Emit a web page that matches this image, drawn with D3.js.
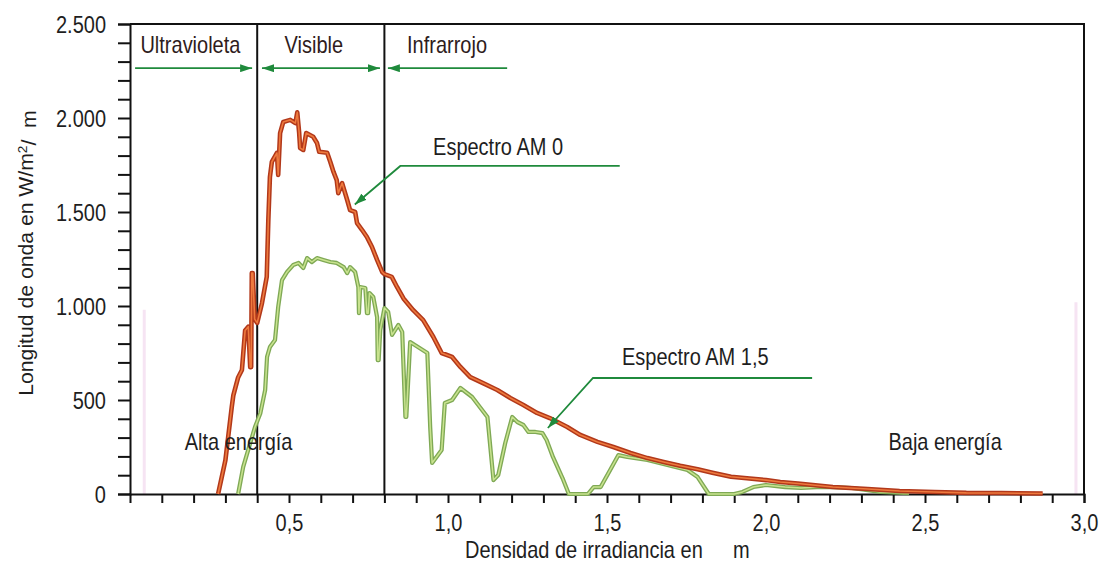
<!DOCTYPE html>
<html>
<head>
<meta charset="utf-8">
<script src="https://cdn.jsdelivr.net/npm/d3@7"></script>
<style>
  body { margin: 0; background: #fff; }
  svg text { font-family: "Liberation Sans", Arial, sans-serif; fill: #1e1e1e; font-size: 20px; }
</style>
</head>
<body>
<div id="chart"></div>
<script>
// AM 0 spectrum: [wavelength in µm, irradiance]
const am0 = [
  [0.277, 0], [0.30, 180], [0.32, 463], [0.325, 525], [0.34, 620], [0.352, 660],
  [0.362, 870], [0.372, 890], [0.378, 675], [0.381, 675], [0.383, 1175], [0.386, 1175],
  [0.392, 930], [0.40, 910], [0.415, 1015], [0.43, 1155], [0.435, 1457], [0.44, 1686],
  [0.446, 1766], [0.462, 1814], [0.466, 1697], [0.472, 1920], [0.482, 1979],
  [0.504, 1990], [0.52, 1973], [0.526, 2030], [0.532, 1920], [0.535, 1840],
  [0.545, 1830], [0.554, 1920], [0.576, 1900], [0.588, 1867], [0.595, 1820],
  [0.62, 1815], [0.63, 1766], [0.64, 1713], [0.65, 1670], [0.655, 1600], [0.667, 1654],
  [0.683, 1564], [0.692, 1510], [0.708, 1500], [0.714, 1441], [0.73, 1404],
  [0.745, 1367], [0.761, 1314], [0.777, 1245], [0.793, 1181], [0.80, 1170],
  [0.823, 1155], [0.84, 1100], [0.86, 1040], [0.89, 979], [0.922, 925], [0.954, 835],
  [0.98, 750], [1.013, 729], [1.039, 676], [1.07, 622], [1.11, 590], [1.155, 553],
  [1.196, 511], [1.237, 473], [1.28, 431], [1.32, 404], [1.375, 356], [1.416, 314],
  [1.47, 277], [1.52, 250], [1.574, 218], [1.627, 191], [1.678, 170], [1.73, 150],
  [1.785, 132], [1.835, 112], [1.89, 92], [1.94, 84], [2.0, 74], [2.045, 64],
  [2.1, 56], [2.21, 37], [2.32, 27], [2.42, 16], [2.53, 11], [2.63, 6], [2.74, 5],
  [2.87, 3]
];

// AM 1,5 spectrum: [wavelength in µm, irradiance]
const am15 = [
  [0.34, 0], [0.356, 144], [0.378, 271], [0.393, 356], [0.41, 430], [0.425, 553],
  [0.431, 729], [0.44, 782], [0.456, 819], [0.466, 995], [0.478, 1138], [0.494, 1181],
  [0.513, 1218], [0.53, 1229], [0.545, 1202], [0.557, 1255], [0.572, 1234],
  [0.588, 1255], [0.608, 1245], [0.63, 1234], [0.65, 1229], [0.672, 1207],
  [0.683, 1175], [0.692, 1207], [0.708, 1181], [0.718, 1101], [0.72, 962],
  [0.724, 1101], [0.74, 1096], [0.745, 962], [0.749, 962], [0.753, 1069],
  [0.765, 1048], [0.777, 941], [0.779, 712], [0.782, 712], [0.787, 872], [0.80, 989],
  [0.812, 968], [0.824, 846], [0.844, 899], [0.856, 862], [0.866, 410], [0.869, 410],
  [0.881, 808], [0.935, 750], [0.944, 356], [0.95, 165], [0.98, 234], [0.99, 484],
  [1.013, 500], [1.039, 564], [1.076, 516], [1.124, 410], [1.143, 74], [1.158, 101],
  [1.18, 271], [1.202, 410], [1.218, 383], [1.237, 367], [1.253, 330], [1.275, 330],
  [1.297, 324], [1.31, 287], [1.33, 197], [1.36, 85], [1.38, 0], [1.44, 0],
  [1.458, 37], [1.48, 37], [1.51, 128], [1.536, 207], [1.564, 197], [1.627, 181],
  [1.69, 154], [1.753, 128], [1.785, 90], [1.82, 0], [1.90, 0], [1.926, 11],
  [1.96, 37], [2.0, 48], [2.06, 37], [2.11, 32], [2.16, 37], [2.21, 37], [2.27, 32],
  [2.32, 21], [2.36, 11], [2.45, 5]
];

// region boundaries (µm) and labels
const regionBounds = [0.4, 0.8];
const regionLabels = [
  { text: 'Ultravioleta', at: 0.19 },
  { text: 'Visible', at: 0.578 },
  { text: 'Infrarrojo', at: 0.997 }
];

const yTicksMajor = [0, 500, 1000, 1500, 2000, 2500];
const xTicksMajor = [0.5, 1.0, 1.5, 2.0, 2.5, 3.0];

const width = 1113, height = 565;
const margin = { top: 24, right: 29, bottom: 71, left: 130 };
// the source picture has its text stretched vertically
const stretch = 1.18;

const es = d3.formatLocale({ decimal: ',', thousands: '.', grouping: [3], currency: ['', ''] });

const svg = d3.select('#chart').append('svg')
  .attr('width', width)
  .attr('height', height);

const x = d3.scaleLinear().domain([0, 3]).range([margin.left, width - margin.right]);
const y = d3.scaleLinear().domain([0, 2500]).range([height - margin.bottom, margin.top]);

// places a text at (px, py) with the baseline at py, stretched vertically
function label(px, py, txt, anchor) {
  return svg.append('text')
    .attr('transform', `translate(${px},${py}) scale(1,${stretch})`)
    .attr('text-anchor', anchor || 'start')
    .text(txt);
}

// faint pink scan lines from the original picture
svg.append('rect').attr('x', x(0.04)).attr('y', y(980)).attr('width', 3)
  .attr('height', y(0) - y(980)).attr('fill', '#f6e4f3');
svg.append('rect').attr('x', x(2.97)).attr('y', y(1020)).attr('width', 3)
  .attr('height', y(0) - y(1020)).attr('fill', '#f6e4f3');

// X axis
const xAxis = svg.append('g')
  .attr('transform', `translate(0,${y(0)})`)
  .call(d3.axisBottom(x)
    .tickValues(d3.range(1, 31).map(d => d / 10))
    .tickSize(9)
    .tickPadding(12)
    .tickFormat(d => xTicksMajor.some(t => Math.abs(t - d) < 1e-9) ? es.format('.1f')(d) : ''));
xAxis.select('.domain').attr('stroke', '#111').attr('stroke-width', 2);
xAxis.selectAll('.tick line').attr('stroke', '#111').attr('stroke-width', 2);
xAxis.selectAll('.tick text')
  .attr('y', null).attr('dy', null)
  .attr('transform', `translate(0,37) scale(1,${stretch})`)
  .style('font-size', '20px').attr('fill', '#1e1e1e');

// Y axis
const yAxis = svg.append('g')
  .attr('transform', `translate(${x(0)},0)`)
  .call(d3.axisLeft(y)
    .tickValues(d3.range(0, 2501, 100))
    .tickSize(12)
    .tickPadding(8)
    .tickFormat(d => yTicksMajor.includes(d) ? es.format(',d')(d) : ''));
yAxis.select('.domain').attr('stroke', '#111').attr('stroke-width', 2);
yAxis.selectAll('.tick line').attr('stroke', '#111').attr('stroke-width', 2);
yAxis.selectAll('.tick text')
  .attr('x', null).attr('dy', null)
  .attr('transform', `translate(-24,8.5) scale(1,${stretch})`)
  .style('font-size', '20px').attr('fill', '#1e1e1e');

// frame top + right
svg.append('path')
  .attr('d', `M${x(0)},${y(2500)}H${x(3)}V${y(0)}`)
  .attr('fill', 'none').attr('stroke', '#111').attr('stroke-width', 2);

// region boundaries
svg.selectAll('line.bound')
  .data(regionBounds)
  .join('line')
  .attr('class', 'bound')
  .attr('x1', d => x(d)).attr('x2', d => x(d))
  .attr('y1', y(2500)).attr('y2', y(0))
  .attr('stroke', '#111').attr('stroke-width', 2);

regionLabels.forEach(r => {
  label(x(r.at), 53, r.text, 'middle').style('fill', '#2f1c1c');
});

// green arrows below the region labels
const green = '#1f8a3c';
const defs = svg.append('defs');
defs.append('marker')
  .attr('id', 'ah')
  .attr('viewBox', '0 0 12 8')
  .attr('refX', 12).attr('refY', 4)
  .attr('markerWidth', 12).attr('markerHeight', 8)
  .attr('markerUnits', 'userSpaceOnUse')
  .attr('orient', 'auto-start-reverse')
  .append('path').attr('d', 'M0,0L12,4L0,8z').attr('fill', green);

const arrowY = y(2265);
const arrows = [
  { from: 0.016, to: 0.384, start: false, end: true },
  { from: 0.415, to: 0.786, start: true, end: true },
  { from: 0.811, to: 1.186, start: true, end: false }
];
svg.selectAll('line.arr')
  .data(arrows)
  .join('line')
  .attr('class', 'arr')
  .attr('x1', d => x(d.from)).attr('x2', d => x(d.to))
  .attr('y1', arrowY).attr('y2', arrowY)
  .attr('stroke', green).attr('stroke-width', 1.8)
  .attr('marker-start', d => d.start ? 'url(#ah)' : null)
  .attr('marker-end', d => d.end ? 'url(#ah)' : null);

// spectra
const line = d3.line().x(d => x(d[0])).y(d => y(d[1]));

svg.append('path').datum(am15).attr('d', line)
  .attr('fill', 'none').attr('stroke', '#7fa955').attr('stroke-width', 4.2)
  .attr('stroke-linejoin', 'round');
svg.append('path').datum(am15).attr('d', line)
  .attr('fill', 'none').attr('stroke', '#c9e38f').attr('stroke-width', 1.5)
  .attr('stroke-linejoin', 'round');

svg.append('path').datum(am0).attr('d', line)
  .attr('fill', 'none').attr('stroke', '#b2381a').attr('stroke-width', 4.6)
  .attr('stroke-linejoin', 'round');
svg.append('path').datum(am0).attr('d', line)
  .attr('fill', 'none').attr('stroke', '#ee7a3e').attr('stroke-width', 1.6)
  .attr('stroke-linejoin', 'round');

// annotations with leader arrows
const notes = [
  { text: 'Espectro AM 0', tx: 0.953, ty: 155, pts: [[1.54, 1745], [0.85, 1745], [0.707, 1540]] },
  { text: 'Espectro AM 1,5', tx: 1.547, ty: 365, pts: [[2.145, 617], [1.456, 617], [1.314, 351]] }
];
notes.forEach(n => {
  svg.append('path')
    .attr('d', line(n.pts))
    .attr('fill', 'none').attr('stroke', green).attr('stroke-width', 1.8)
    .attr('marker-end', 'url(#ah)');
  label(x(n.tx), n.ty, n.text, 'start');
});

// energy labels
label(x(0.172), 450, 'Alta energía', 'start');
label(x(2.385), 450, 'Baja energía', 'start');

// axis titles
const yt = svg.append('text')
  .attr('transform', `translate(33,253) scale(1,1.06) rotate(-90)`)
  .attr('text-anchor', 'middle');
yt.append('tspan').text('Longitud de onda en W/m');
yt.append('tspan').attr('dy', '-0.45em').style('font-size', '13px').text('2');
yt.append('tspan').attr('dy', '0.45em').text('/');
yt.append('tspan').attr('dx', '11').text('m');

label(465, 558, 'Densidad de irradiancia en', 'start');
label(733, 558, 'm', 'start');
</script>
</body>
</html>
